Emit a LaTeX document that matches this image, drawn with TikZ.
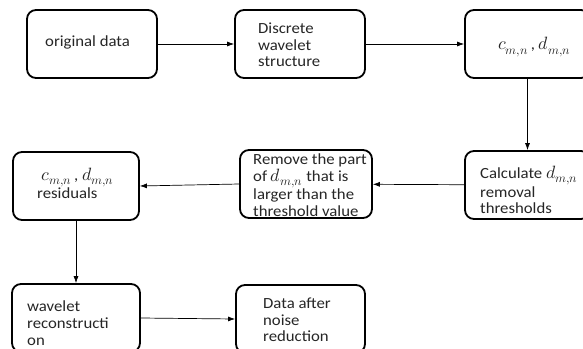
\documentclass[tikz,border=0pt]{standalone}
\usepackage{unicode-math}
\setmainfont{Carlito}[FakeStretch=1.08]
\setmathfont{Latin Modern Math}[Scale=1.15]
\usetikzlibrary{arrows.meta}
\begin{document}
\begin{tikzpicture}[x=1pt,y=-1pt,
  box/.style={draw=black,line width=1.8pt,rounded corners=9pt,minimum height=68pt,inner sep=0pt},
  txt/.style={anchor=west,align=left,inner sep=0pt,font=\fontsize{15.5}{16.7}\selectfont,text=black!85},
  conn/.style={draw=black,line width=0.7pt,-{Latex[length=7pt,width=5pt]}}]
\clip (0,0) rectangle (583,348);
\fill[white] (0,0) rectangle (583,348);
% boxes
\node[box,minimum width=130pt] (b1) at (92,44) {};
\node[box,minimum width=130pt] (b2) at (300,44) {};
\node[box,minimum width=125pt] (b3) at (527.5,44) {};
\node[box,minimum width=125pt] (b4) at (527.5,185) {};
\node[box,minimum width=132pt] (b5) at (306,184) {};
\node[box,minimum width=126pt] (b6) at (76,186) {};
\node[box,minimum width=128pt] (b7) at (76,318) {};
\node[box,minimum width=129pt] (b8) at (300.5,319) {};
% texts
\node[txt] (t1) at (45,42) {original data};
\node[txt] (t2) at (258,45) {Discrete\\wavelet\\structure};
\node[txt] (t3) at (498,47) {$c_{m,n}$\,, $d_{m,n}$};
\node[txt] (t4) at (480,190) {Calculate $d_{m,n}$\\removal\\thresholds};
\node[txt] (t5) at (253,185) {Remove the part\\of $d_{m,n}$ that is\\larger than the\\threshold value};
\node[txt] (t6) at (37,183.5) {\;$c_{m,n}$\,, $d_{m,n}$\\residuals};
\node[txt] (t7) at (27,323) {wavelet\\reconstructi\\on};
\node[txt] (t8) at (263,320) {Data after\\noise\\reduction};
% connectors
\draw[conn] (b1) -- (b2);
\draw[conn] (b2) -- (b3);
\draw[conn] (b3) -- (b4);
\draw[conn] (b4) -- (b5);
\draw[conn] (b5.west) -- (b6.east);
\draw[conn] (b6) -- (b7);
\draw[conn] (b7.east) -- (b8.west);
\end{tikzpicture}
\end{document}
